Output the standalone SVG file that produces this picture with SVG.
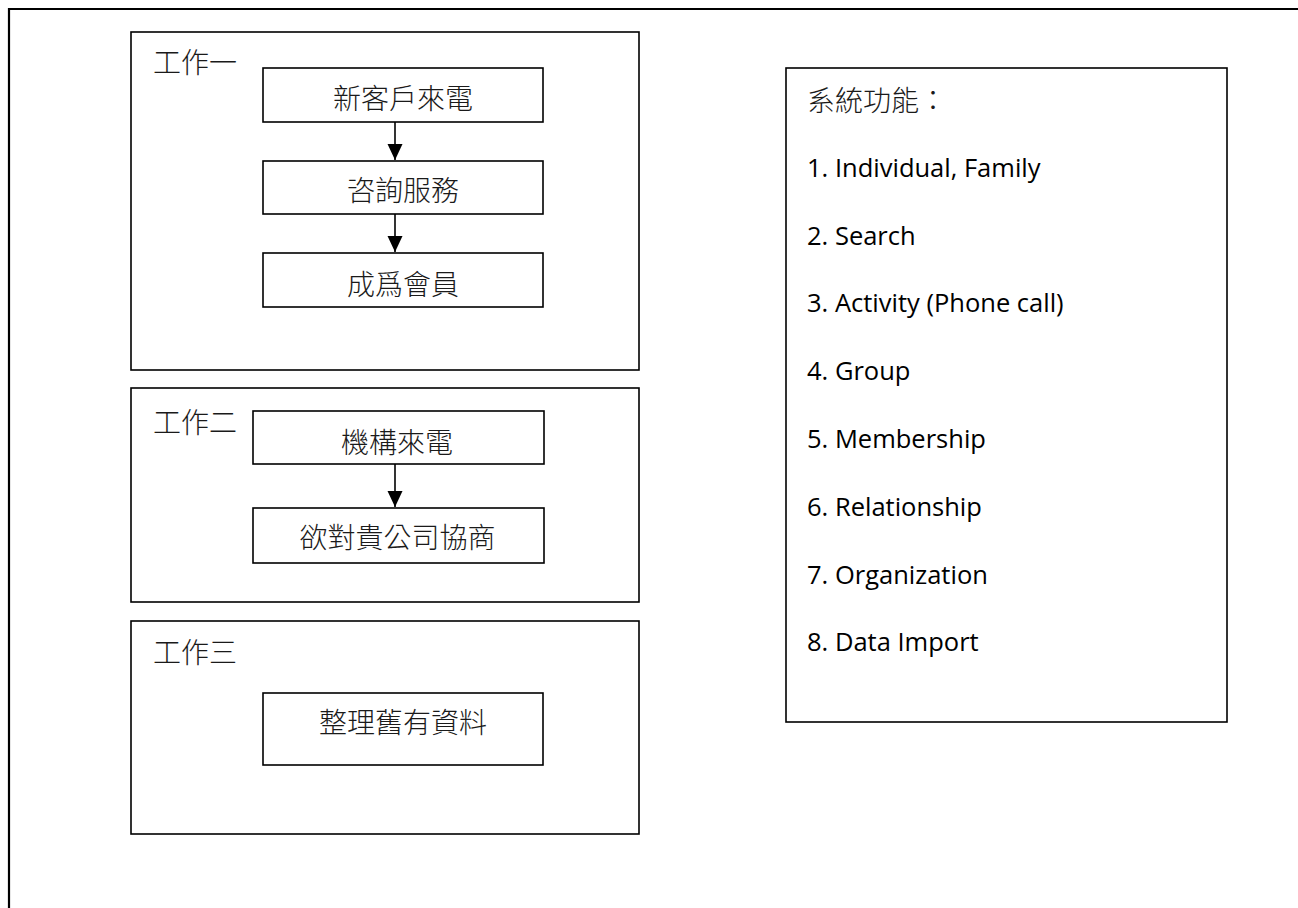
<svg xmlns="http://www.w3.org/2000/svg" width="1298" height="908" viewBox="0 0 1298 908">
  <defs>
    <style>
      .frame { fill: none; stroke: #000; stroke-width: 2.2; }
      .box { fill: #fff; stroke: #000; stroke-width: 1.6; }
      .cjk { font-family: "Noto Sans CJK TC", "Noto Sans CJK SC", sans-serif; font-size: 28px; font-weight: 300; fill: #1a1a1a; }
      .mid { text-anchor: middle; }
      .list { font-family: "Open Sans", "Liberation Sans", sans-serif; font-size: 25.5px; fill: #000; }
      .conn { stroke: #000; stroke-width: 1.6; fill: none; }
    </style>
    <marker id="arrow" markerUnits="userSpaceOnUse" markerWidth="16" markerHeight="17" refX="16" refY="7.5" orient="auto">
      <path d="M0,0 L16,7.5 L0,15 Z" fill="#000"/>
    </marker>
  </defs>
  <rect width="1298" height="908" fill="#fff"/>

  <g id="page-frame">
    <path class="frame" d="M1298,9 L9,9 L9,908"/>
  </g>

  <g id="task1">
    <rect class="box" x="131" y="32" width="508" height="338"/>
    <text class="cjk" x="153" y="72.6">工作一</text>
  </g>
  <g id="node-new-customer">
    <rect class="box" x="263" y="68" width="280" height="54"/>
    <text class="cjk mid" x="403" y="108.5">新客戶來電</text>
  </g>
  <g id="node-consult">
    <rect class="box" x="263" y="161" width="280" height="53"/>
    <text class="cjk mid" x="403" y="201">咨詢服務</text>
  </g>
  <g id="node-member">
    <rect class="box" x="263" y="253" width="280" height="54"/>
    <text class="cjk mid" x="403" y="295">成爲會員</text>
  </g>

  <g id="task2">
    <rect class="box" x="131" y="388" width="508" height="214"/>
    <text class="cjk" x="153" y="432.6">工作二</text>
  </g>
  <g id="node-org-call">
    <rect class="box" x="253" y="411" width="291" height="53"/>
    <text class="cjk mid" x="397" y="452.6">機構來電</text>
  </g>
  <g id="node-negotiate">
    <rect class="box" x="253" y="508" width="291" height="55"/>
    <text class="cjk mid" x="397.5" y="548">欲對貴公司協商</text>
  </g>

  <g id="task3">
    <rect class="box" x="131" y="621" width="508" height="213"/>
    <text class="cjk" x="153" y="662.6">工作三</text>
  </g>
  <g id="node-organize">
    <rect class="box" x="263" y="693" width="280" height="72"/>
    <text class="cjk mid" x="403" y="732.6">整理舊有資料</text>
  </g>

  <g id="system-functions">
    <rect class="box" x="786" y="68" width="441" height="654"/>
    <text class="cjk" x="807" y="110.6">系統功能：</text>
    <text class="list" x="807" y="177">1. Individual, Family</text>
    <text class="list" x="807" y="245">2. Search</text>
    <text class="list" x="807" y="312">3. Activity (Phone call)</text>
    <text class="list" x="807" y="380">4. Group</text>
    <text class="list" x="807" y="448">5. Membership</text>
    <text class="list" x="807" y="516">6. Relationship</text>
    <text class="list" x="807" y="584">7. Organization</text>
    <text class="list" x="807" y="651">8. Data Import</text>
  </g>

  <g id="connectors">
    <line class="conn" x1="395" y1="122" x2="395" y2="160" marker-end="url(#arrow)"/>
    <line class="conn" x1="395" y1="214" x2="395" y2="252" marker-end="url(#arrow)"/>
    <line class="conn" x1="395" y1="464" x2="395" y2="507" marker-end="url(#arrow)"/>
  </g>
</svg>
